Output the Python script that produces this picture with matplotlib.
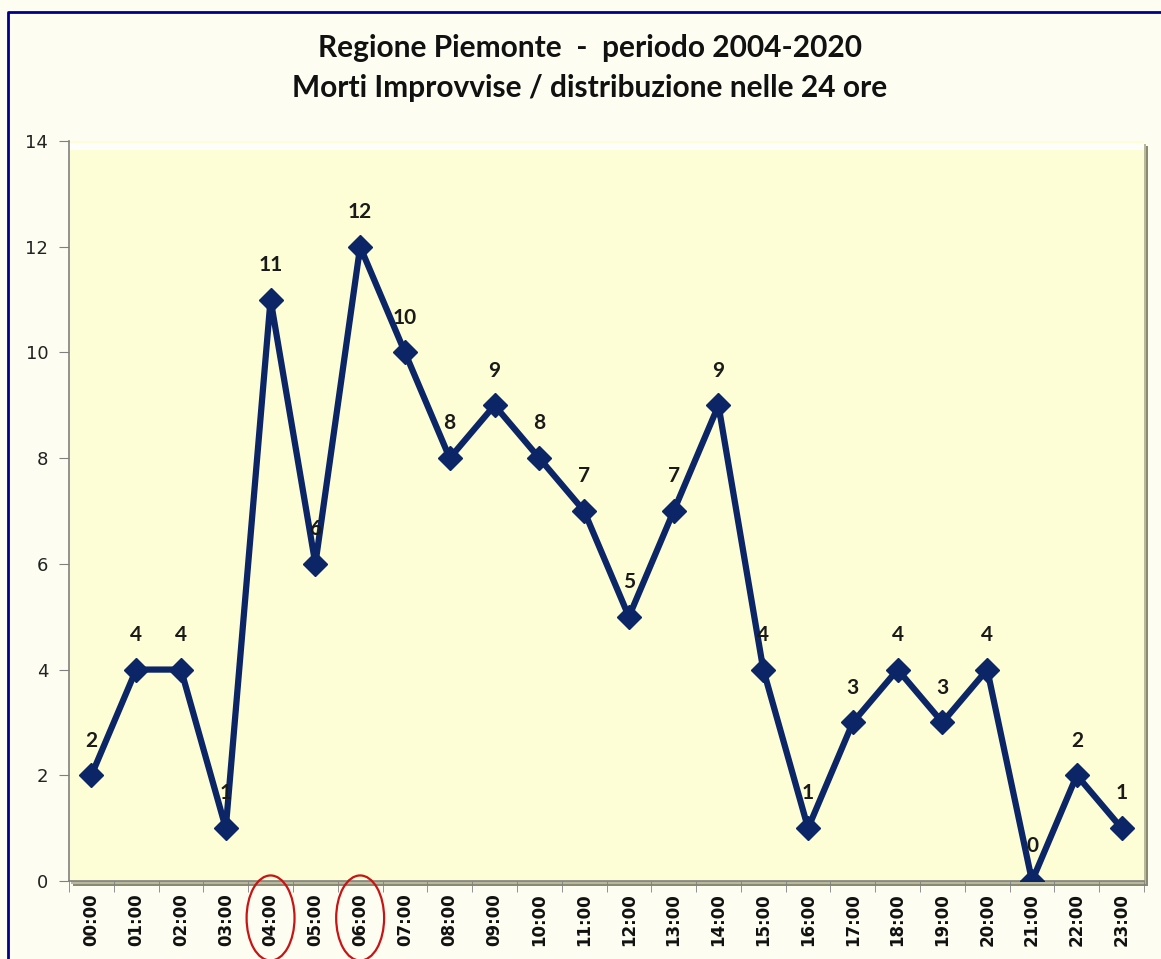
import matplotlib.pyplot as plt
from matplotlib import transforms
from matplotlib.patches import Ellipse, Rectangle
from matplotlib.lines import Line2D

# data
ore = ['00:00', '01:00', '02:00', '03:00', '04:00', '05:00', '06:00', '07:00',
       '08:00', '09:00', '10:00', '11:00', '12:00', '13:00', '14:00', '15:00',
       '16:00', '17:00', '18:00', '19:00', '20:00', '21:00', '22:00', '23:00']
morti = [2, 4, 4, 1, 11, 6, 12, 10, 8, 9, 8, 7, 5, 7, 9, 4, 1, 3, 4, 3, 4, 0, 2, 1]
evidenziate = ['04:00', '06:00']

W, H = 1161, 959
fig = plt.figure(figsize=(W / 100, H / 100), dpi=100, facecolor='#fdfdf2')

# plot area in pixels (left, top, right, bottom)
L, T, R, B = 69, 141, 1144, 881
ax = fig.add_axes([L / W, 1 - B / H, (R - L) / W, (B - T) / H])
ax.set_zorder(2)
ax.set_facecolor('#fefed6')

# shadow behind the plot area
fig.patches.append(Rectangle(((L + 4) / W, 1 - (B + 5) / H), (R - L) / W, (B - T) / H,
                             transform=fig.transFigure, facecolor='#8a8a70',
                             edgecolor='none', zorder=1))
fig.patches.append(Rectangle(((L + 2) / W, 1 - (B + 3) / H), (R - L) / W, (B - T) / H,
                             transform=fig.transFigure, facecolor='#b8b89c',
                             edgecolor='none', zorder=1))

x = list(range(len(ore)))
ax.plot(x, morti, color='#0b2566', lw=4.5, marker='D', markersize=12,
        markerfacecolor='#0b2566', markeredgecolor='#0b2566', solid_joinstyle='round',
        zorder=3)

for xi, v in zip(x, morti):
    ax.annotate(str(v), (xi, v), xytext=(0, 25), textcoords='offset points',
                ha='center', va='center', fontsize=15, fontweight='bold',
                family='Lato', color='#1a1a1a', zorder=4, annotation_clip=False)

# top highlight of the bevel
ax.axhline(13.9, color='white', lw=5, alpha=0.9, zorder=1)

ax.set_xlim(-0.5, len(ore) - 0.5)
ax.set_ylim(0, 14)
ax.set_yticks(range(0, 15, 2))
ax.tick_params(axis='y', labelsize=13, length=7, color='#808080', labelcolor='#222222', pad=8)
ax.set_xticks(x)
ax.set_xticklabels(ore, rotation=90, fontsize=12, fontweight='bold', color='#111111')
ax.tick_params(axis='x', length=0, pad=9)
ax.set_xticks([i - 0.5 for i in range(len(ore) + 1)], minor=True)
ax.tick_params(axis='x', which='minor', length=8, color='#808080')
for s in ['top', 'right']:
    ax.spines[s].set_visible(False)
for s in ['left', 'bottom']:
    ax.spines[s].set_color('#808080')
    ax.spines[s].set_linewidth(1.2)

# red ellipses round the highlighted hours
tr = transforms.blended_transform_factory(ax.transData, ax.transAxes)
for h in evidenziate:
    ax.add_patch(Ellipse((ore.index(h), -0.05), 1.07, 0.115, transform=tr,
                         fill=False, edgecolor='#c81414', lw=1.6, clip_on=False, zorder=5))

fig.text(590 / W, 1 - 48 / H, 'Regione Piemonte  -  periodo 2004-2020', ha='center',
         va='center', fontsize=21.5, fontweight='bold', family='Lato', color='#111111')
fig.text(590 / W, 1 - 88 / H, 'Morti Improvvise / distribuzione nelle 24 ore', ha='center',
         va='center', fontsize=21.5, fontweight='bold', family='Lato', color='#111111')

# outer chart border (left and top visible)
fig.lines.append(Line2D([8 / W, 8 / W, 1], [0, 1 - 12 / H, 1 - 12 / H],
                        transform=fig.transFigure, color='#00008c', lw=2))

fig.savefig('out.png', dpi=100, facecolor=fig.get_facecolor())
